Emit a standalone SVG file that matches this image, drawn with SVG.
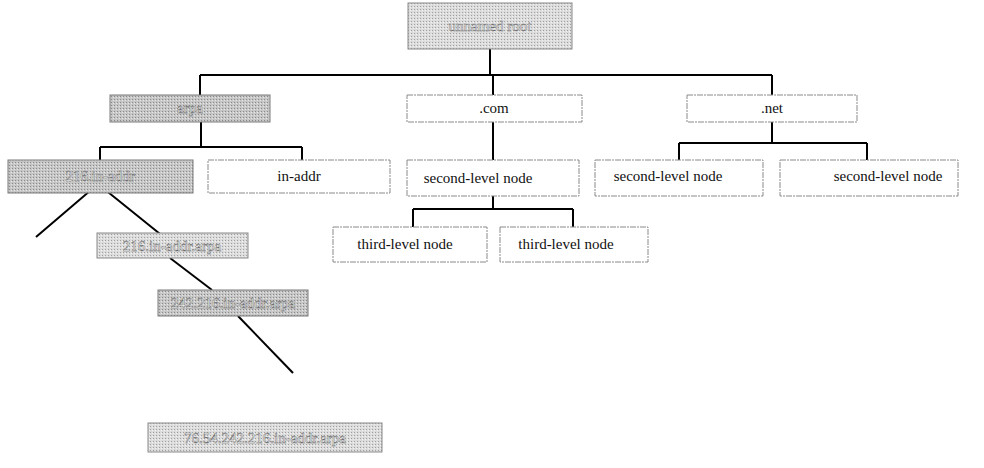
<svg xmlns="http://www.w3.org/2000/svg" width="984" height="468" viewBox="0 0 984 468">
<defs>
<pattern id="dots" width="3" height="3" patternUnits="userSpaceOnUse">
<rect width="3" height="3" fill="#c6c6c6"/>
<rect width="1" height="1" fill="#8a8a8a"/>
<rect x="2" y="1" width="1" height="1" fill="#e6e6e6"/>
</pattern>
<pattern id="dotsL" width="3" height="3" patternUnits="userSpaceOnUse">
<rect width="3" height="3" fill="#dcdcdc"/>
<rect width="1" height="1" fill="#a0a0a0"/>
<rect x="2" y="1" width="1" height="1" fill="#f2f2f2"/>
</pattern>
</defs>
<style>
.w{fill:#fff;stroke:#8a8a8a;stroke-width:1;stroke-dasharray:6 1 2 1}
.g{fill:url(#dots);stroke:#7a7a7a;stroke-width:1}
.gl{fill:url(#dotsL);stroke:#8a8a8a;stroke-width:1}
.t{font-family:"Liberation Serif",serif;font-size:15px;fill:#111;text-anchor:middle}
.gt{font-family:"Liberation Serif",serif;font-size:15px;fill:#fafafa;stroke:#6a6a6a;stroke-width:0.45;text-anchor:middle}
.c{fill:none;stroke:#000;stroke-width:2}
</style>
<g id="connectors">
<path class="c" d="M490,49V75M200,75H772M200,75V95M493,75V95M772,75V95"/>
<path class="c" d="M201,122V147M100,147H302M100,147V160M302,147V160"/>
<path class="c" d="M493,122V160"/>
<path class="c" d="M772,122V143M679,143H867M679,143V160M867,143V160"/>
<path class="c" d="M493,196V209M413,209H573M413,209V227M573,209V227"/>
<path class="c" d="M36,237L98,184L170,242"/>
<path class="c" d="M170,258L212,290"/>
<path class="c" d="M238,316L293,373"/>
</g>
<g id="root"><rect class="gl" x="408" y="3" width="164" height="46"/><text class="gt" x="490" y="31">unnamed root</text></g>
<g id="arpa"><rect class="g" x="110" y="95" width="160" height="27"/><text class="gt" x="190" y="113">arpa</text></g>
<g id="com"><rect class="w" x="407" y="95" width="175" height="27"/><text class="t" x="494" y="113">.com</text></g>
<g id="net"><rect class="w" x="687" y="95" width="170" height="27"/><text class="t" x="772" y="113">.net</text></g>
<g id="inaddr-gray"><rect class="g" x="8" y="160" width="185" height="33"/><text class="gt" x="100" y="181">216.in-addr</text></g>
<g id="inaddr"><rect class="w" x="208" y="160" width="182" height="33"/><text class="t" x="299" y="181">in-addr</text></g>
<g id="com-second"><rect class="w" x="407" y="160" width="172" height="36"/><text class="t" x="478" y="183">second-level node</text></g>
<g id="net-second1"><rect class="w" x="595" y="160" width="168" height="36"/><text class="t" x="668" y="181">second-level node</text></g>
<g id="net-second2"><rect class="w" x="780" y="160" width="178" height="36"/><text class="t" x="888" y="181">second-level node</text></g>
<g id="third1"><rect class="w" x="333" y="227" width="154" height="35"/><text class="t" x="405" y="249">third-level node</text></g>
<g id="third2"><rect class="w" x="500" y="227" width="148" height="35"/><text class="t" x="566" y="249">third-level node</text></g>
<g id="level3"><rect class="gl" x="97" y="233" width="151" height="25"/><text class="gt" x="172" y="251">216.in-addr.arpa</text></g>
<g id="level4"><rect class="g" x="158" y="290" width="150" height="26"/><text class="gt" x="233" y="308">242.216.in-addr.arpa</text></g>
<g id="level5"><rect class="gl" x="148" y="423" width="234" height="29"/><text class="gt" x="265" y="443">76.54.242.216.in-addr.arpa</text></g>
</svg>
